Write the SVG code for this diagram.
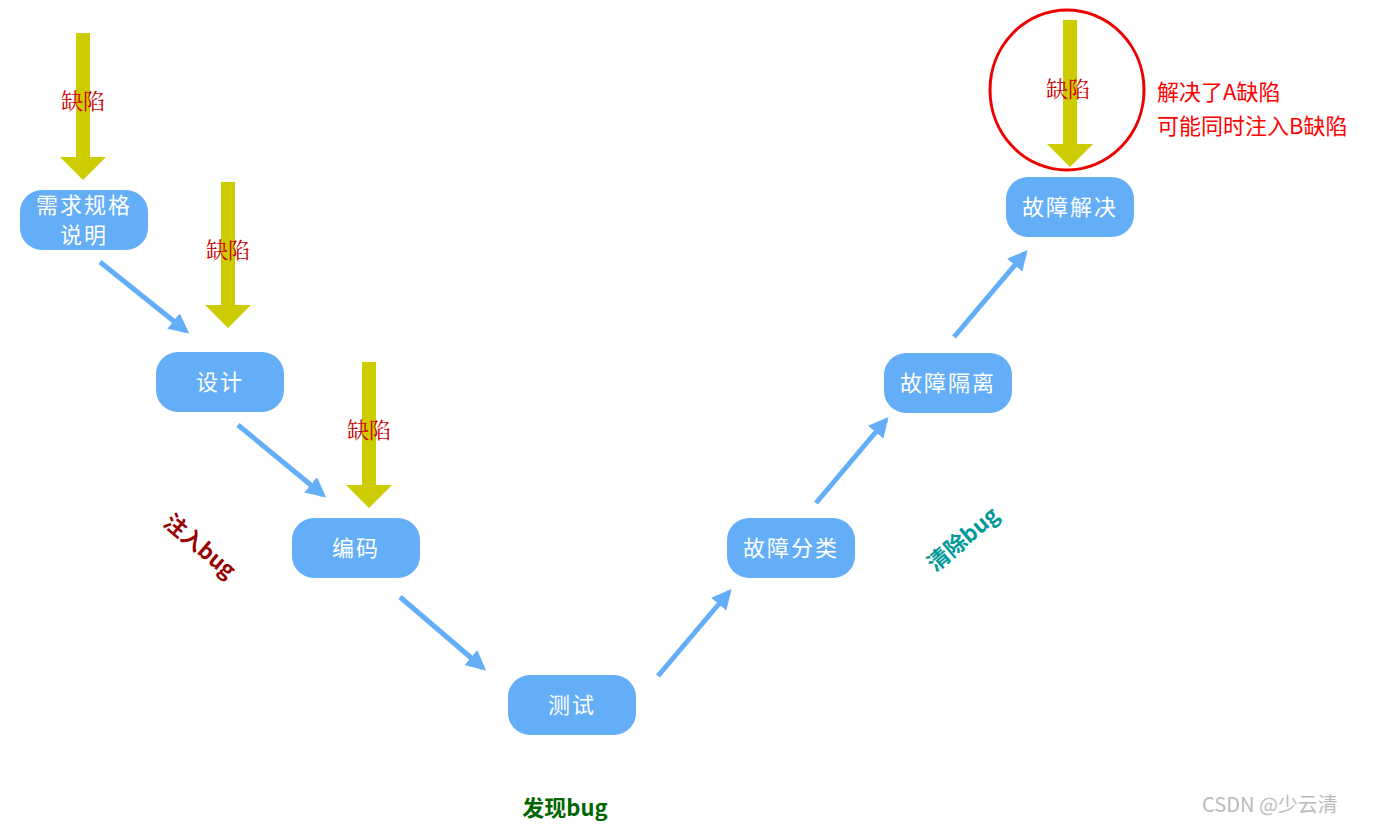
<svg xmlns="http://www.w3.org/2000/svg" width="1375" height="829" viewBox="0 0 1375 829">
<style>
.node rect{fill:#64aef8}
.node text{fill:#fff;font-family:"Noto Sans CJK SC",serif;font-size:22px;text-anchor:middle;letter-spacing:2px}
.conn line{stroke:#64aef8;stroke-width:5}
.defect{fill:#cc0000;font-family:"Noto Serif CJK SC","Noto Sans CJK SC",serif;font-size:22px;text-anchor:middle}
.yarrow{fill:#cccc00}
.note{fill:#ff0000;font-family:"Noto Sans CJK SC",sans-serif;font-size:22px}
.lbl{font-family:"Noto Sans CJK SC",sans-serif;font-size:22px;font-weight:bold;text-anchor:middle}
</style>
<defs>
<marker id="ah" viewBox="0 0 10 10" refX="8" refY="5" markerWidth="4" markerHeight="4" orient="auto"><path d="M0,0L10,5L0,10z" fill="#64aef8"/></marker>
</defs>
<rect width="1375" height="829" fill="#fff"/>
<g class="yarrow">
<path d="M76,33h14v124h16l-23,23l-23,-23h16z"/>
<path d="M221,182h14v123h16l-23,23l-23,-23h16z"/>
<path d="M362,362h14v123h16l-23,23l-23,-23h16z"/>
<path d="M1063,20h14v124h16l-23,23l-23,-23h16z"/>
</g>
<g class="conn">
<line x1="100" y1="262" x2="186" y2="331" marker-end="url(#ah)"/>
<line x1="238" y1="425" x2="323" y2="495" marker-end="url(#ah)"/>
<line x1="400" y1="597" x2="483" y2="668" marker-end="url(#ah)"/>
<line x1="658" y1="676" x2="729" y2="592" marker-end="url(#ah)"/>
<line x1="816" y1="503" x2="886" y2="420" marker-end="url(#ah)"/>
<line x1="954" y1="337" x2="1025" y2="253" marker-end="url(#ah)"/>
</g>
<g id="n1" class="node"><rect x="20" y="190" width="128" height="60" rx="22"/><text x="84" y="213">需求规格</text><text x="84" y="243">说明</text></g>
<g id="n2" class="node"><rect x="156" y="352" width="128" height="60" rx="22"/><text x="220" y="390">设计</text></g>
<g id="n3" class="node"><rect x="292" y="518" width="128" height="60" rx="22"/><text x="356" y="556">编码</text></g>
<g id="n4" class="node"><rect x="508" y="675" width="128" height="60" rx="22"/><text x="572" y="713">测试</text></g>
<g id="n5" class="node"><rect x="727" y="518" width="128" height="60" rx="22"/><text x="791" y="556">故障分类</text></g>
<g id="n6" class="node"><rect x="884" y="353" width="128" height="60" rx="22"/><text x="948" y="391">故障隔离</text></g>
<g id="n7" class="node"><rect x="1006" y="177" width="128" height="60" rx="22"/><text x="1070" y="215">故障解决</text></g>
<text class="defect" x="83" y="109">缺陷</text>
<text class="defect" x="228" y="258">缺陷</text>
<text class="defect" x="369" y="438">缺陷</text>
<text class="defect" x="1068" y="97">缺陷</text>
<ellipse cx="1067" cy="90" rx="77" ry="80" fill="none" stroke="#ee0000" stroke-width="3"/>
<text class="note" x="1157" y="100">解决了A缺陷</text>
<text class="note" x="1157" y="134">可能同时注入B缺陷</text>
<text class="lbl" fill="#990000" transform="translate(195,552) rotate(40)">注入bug</text>
<text class="lbl" fill="#009999" transform="translate(968,545) rotate(-40)">清除bug</text>
<text class="lbl" fill="#006600" x="565" y="816">发现bug</text>
<text x="1270" y="812" fill="#bbbbbb" font-family="'Noto Sans CJK SC',sans-serif" font-size="20" text-anchor="middle">CSDN @少云清</text>
</svg>
